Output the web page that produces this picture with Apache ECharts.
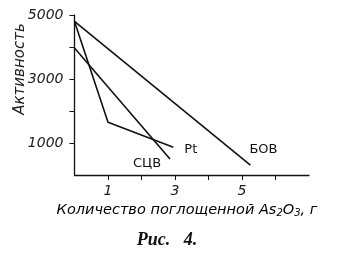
<!DOCTYPE html>
<html><head><meta charset="utf-8">
<script src="https://cdn.jsdelivr.net/npm/echarts@6/dist/echarts.min.js"></script>
<style>html,body{margin:0;padding:0;background:#fff}#c{width:356px;height:266px}</style>
</head><body><div id="c"></div>
<script>
var seriesNames = ['Pt', 'СЦВ', 'БОВ'];
var ptData = [[0, 4800], [1, 1650], [2.95, 870]];
var scvData = [[0, 3970], [2.85, 500]];
var bovData = [[0, 4800], [5.25, 310]];
var xTicks = [1, 2, 3, 4, 5, 6];
var xTickLabels = [1, 3, 5];
var yTicks = [1000, 2000, 3000, 4000, 5000];
var yTickLabels = [1000, 3000, 5000];

var font = 'DejaVu Sans';
var chart = echarts.init(document.getElementById('c'), null, { renderer: 'canvas' });
var lineStyle = { color: '#111', width: 1.6 };
function endLabel(name, off) {
  return { show: true, formatter: name, offset: off, color: '#111', fontFamily: font, fontSize: 13 };
}
function plain(v) { return String(v); }
chart.setOption({
  animation: false,
  backgroundColor: '#fff',
  grid: { left: 74.5, top: 15, right: 47, bottom: 91 },
  xAxis: {
    type: 'value', min: 0, max: 7, interval: 1,
    axisLine: { lineStyle: { color: '#111', width: 1.3 } },
    axisTick: { length: 5, lineStyle: { color: '#111' }, customValues: xTicks },
    splitLine: { show: false },
    axisLabel: {
      color: '#222', fontFamily: font, fontStyle: 'italic', fontSize: 14, margin: 9,
      customValues: xTickLabels, formatter: plain
    }
  },
  yAxis: {
    type: 'value', min: 0, max: 5000, interval: 1000,
    axisLine: { show: true, lineStyle: { color: '#111', width: 1.3 } },
    axisTick: { show: true, length: 5, lineStyle: { color: '#111' }, customValues: yTicks },
    splitLine: { show: false },
    axisLabel: {
      color: '#222', fontFamily: font, fontStyle: 'italic', fontSize: 14, margin: 11,
      customValues: yTickLabels, formatter: plain
    }
  },
  graphic: [
    { type: 'text', x: 20, y: 69, rotation: Math.PI / 2,
      style: { text: 'Активность', fill: '#222', font: 'italic 15px "DejaVu Sans"', textAlign: 'center', textVerticalAlign: 'middle' } },
    { type: 'text', x: 187, y: 210,
      style: { rich: { n: { fontFamily: font, fontStyle: 'italic', fontSize: 14.5, color: '#222' }, s: { fontFamily: font, fontStyle: 'italic', fontSize: 10, color: '#222', padding: [7, 0, 0, 0] } },
        text: '{n|Количество поглощенной As}{s|2}{n|O}{s|3}{n|, г}', textAlign: 'center', textVerticalAlign: 'middle' } },
    { type: 'text', x: 167, y: 240,
      style: { text: 'Рис.   4.', fill: '#111', font: 'italic bold 18px "Liberation Serif"', textAlign: 'center', textVerticalAlign: 'middle' } }
  ],
  series: [
    { name: seriesNames[0], type: 'line', data: ptData, symbol: 'none', lineStyle: lineStyle, itemStyle: { color: '#111' }, endLabel: endLabel('Pt', [3, 2]) },
    { name: seriesNames[1], type: 'line', data: scvData, symbol: 'none', lineStyle: lineStyle, itemStyle: { color: '#111' }, endLabel: endLabel('СЦВ', [-45, 5]) },
    { name: seriesNames[2], type: 'line', data: bovData, symbol: 'none', lineStyle: lineStyle, itemStyle: { color: '#111' }, endLabel: endLabel('БОВ', [-9, -15]) }
  ]
});
</script></body></html>
